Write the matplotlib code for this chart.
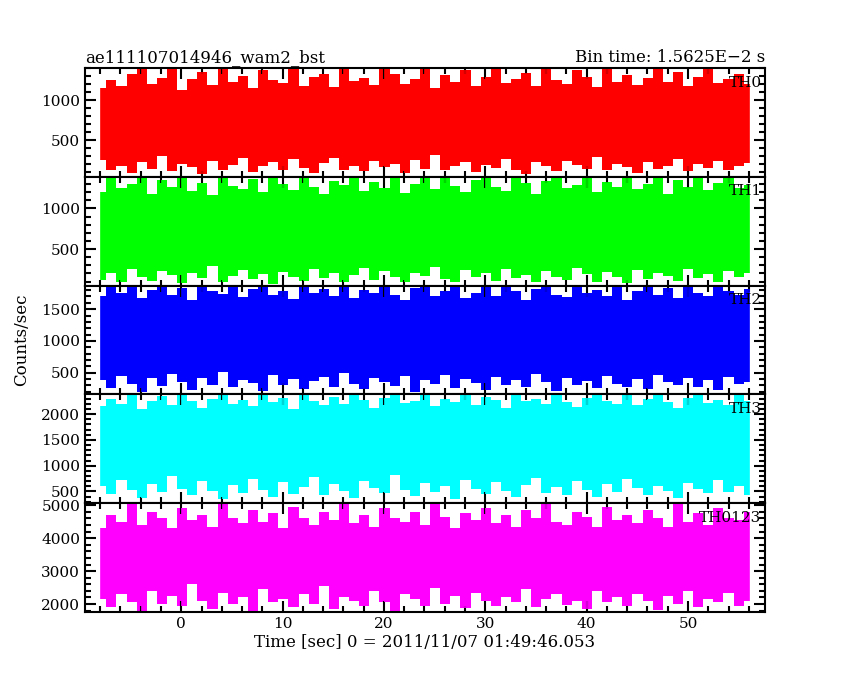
import numpy as np
import matplotlib
matplotlib.use("Agg")
import matplotlib.pyplot as plt
from matplotlib.ticker import MultipleLocator

labels = ["TH0", "TH1", "TH2", "TH3", "TH0123"]
colors = ["#ff0000", "#00ff00", "#0000ff", "#00ffff", "#ff00ff"]
ylims = [(40, 1400), (50, 1390), (160, 1870), (270, 2385), (1760, 5060)]
mids = [650, 650, 1000, 1400, 3300]

up0 = [1150,1250,1180,1320,1400,1200,1280,1400,1130,1260,1350,1190,1400,1220,1300,1150,1380,1250,1210,1400,
       1180,1290,1330,1160,1400,1240,1270,1190,1400,1320,1200,1260,1400,1150,1310,1230,1380,1170,1290,1400,
       1210,1260,1340,1180,1400,1250,1200,1370,1290,1160,1400,1230,1310,1190,1270,1400,1220,1350,1180,1290,
       1400,1210,1260,1330,1200]
lo0 = [250,120,180,90,230,140,300,110,200,160,80,240,130,190,270,100,170,220,120,260,
       150,90,210,280,130,180,110,240,160,200,90,250,140,310,120,170,230,100,190,150,
       260,130,80,220,170,110,240,190,140,290,120,200,160,90,230,140,180,260,110,200,
       150,240,130,180,210]
up1 = [1200,1380,1250,1300,1390,1180,1350,1260,1390,1220,1310,1170,1390,1280,1240,1360,1200,1390,1300,1230,
       1390,1260,1180,1340,1290,1390,1210,1320,1250,1390,1190,1300,1370,1240,1390,1280,1200,1350,1390,1260,
       1220,1390,1310,1180,1340,1390,1250,1290,1390,1200,1330,1260,1390,1240,1300,1390,1180,1350,1270,1390,
       1230,1310,1390,1250,1290]
lo1 = [120,200,90,260,150,110,230,180,80,210,140,290,100,170,240,130,190,70,220,160,
       110,250,140,200,90,180,270,120,230,150,100,210,170,280,130,90,240,160,200,110,
       260,140,180,90,230,150,120,270,190,100,220,160,80,240,130,200,170,110,250,140,
       190,90,230,160,210]
up2 = [1700,1850,1760,1870,1680,1800,1870,1720,1830,1650,1870,1780,1740,1870,1690,1810,1870,1730,1790,1660,
       1870,1750,1820,1700,1870,1680,1800,1760,1870,1720,1640,1830,1870,1710,1790,1870,1680,1750,1860,1700,
       1870,1780,1650,1820,1870,1730,1690,1870,1760,1800,1700,1870,1640,1790,1870,1720,1830,1680,1870,1750,
       1700,1870,1790,1730,1820]
lo2 = [380,260,450,320,200,410,290,480,350,230,420,300,510,270,390,340,220,460,310,400,
       250,370,430,280,500,330,240,410,360,290,450,200,380,320,470,260,400,340,230,440,
       300,390,270,480,350,210,420,310,370,260,450,330,280,400,240,460,350,300,420,270,
       380,230,440,320,360]
up3 = [2150,2300,2200,2385,2100,2250,2350,2180,2385,2260,2120,2300,2385,2200,2280,2150,2385,2230,2320,2100,
       2385,2250,2180,2340,2200,2385,2280,2130,2310,2385,2210,2260,2385,2150,2300,2240,2385,2180,2330,2270,
       2120,2385,2250,2300,2190,2385,2230,2140,2320,2385,2260,2200,2385,2170,2290,2385,2240,2130,2310,2385,
       2220,2280,2180,2385,2250]
lo3 = [600,450,720,520,380,650,480,800,550,420,700,500,360,620,470,750,530,400,680,450,
       590,780,430,640,500,370,710,560,460,820,520,410,660,480,600,350,730,540,450,690,
       510,400,620,760,470,580,430,700,520,390,650,480,740,560,420,610,500,380,670,540,
       460,720,490,600,430]
up4 = [4300,4700,4500,5060,4400,4800,4600,4300,4900,4550,4700,4350,5060,4600,4450,4850,4500,4750,4300,4950,
       4600,4400,4800,4550,5060,4450,4700,4350,4900,4600,4500,4800,4400,5060,4650,4300,4750,4550,4900,4450,
       4700,4350,4850,4600,5060,4500,4400,4800,4650,4350,4950,4550,4700,4450,4850,4600,4350,5060,4500,4750,
       4400,4900,4600,4550,4800]
lo4 = [2150,1900,2300,2050,1800,2400,2000,2250,1950,2600,2100,1850,2350,2000,2200,1780,2450,2050,2150,1900,
       2300,2000,2550,1850,2200,2100,1950,2400,2050,1800,2300,2150,1950,2500,2000,2250,1870,2350,2100,1950,
       2200,2050,2450,1900,2150,2300,1980,2100,1850,2400,2050,2200,1950,2300,2100,1820,2250,2000,2400,1900,
       2150,2050,2350,1950,2100]
uppers = [up0, up1, up2, up3, up4]
lowers = [lo0, lo1, lo2, lo3, lo4]
ytick_sets = [[500, 1000], [500, 1000], [500, 1000, 1500], [500, 1000, 1500, 2000], [2000, 3000, 4000, 5000]]
minors = [100, 100, 100, 100, 200]

t_start, t_end = -7.9, 56.0

plt.rcParams['font.family'] = ['DejaVu Serif']
fig = plt.figure(figsize=(8.5, 6.8), dpi=100)
L, R, B, T = 85/850, 765/850, 1-612/680, 1-68/680
h = (T - B) / 5
axes = []
for i in range(5):
    ax = fig.add_axes([L, T - (i+1)*h, R-L, h])
    xu = np.linspace(t_start, t_end, len(uppers[i]))
    xl = np.linspace(t_start, t_end, len(lowers[i]))
    ax.fill_between(xu, mids[i], uppers[i], color=colors[i], lw=0, step='mid')
    ax.fill_between(xl, lowers[i], mids[i], color=colors[i], lw=0, step='mid')
    ax.vlines(xu, mids[i], uppers[i], color=colors[i], lw=1.2)
    ax.vlines(xl, lowers[i], mids[i], color=colors[i], lw=1.2)
    ax.set_xlim(-9.5, 57.6)
    ax.set_ylim(*ylims[i])
    ax.set_yticks(ytick_sets[i])
    ax.yaxis.set_minor_locator(MultipleLocator(minors[i]))
    ax.xaxis.set_major_locator(MultipleLocator(10))
    ax.xaxis.set_minor_locator(MultipleLocator(2))
    ax.tick_params(which='both', direction='in', top=True, right=True, width=1.5, labelsize=11)
    ax.tick_params(which='major', length=8)
    ax.tick_params(which='minor', length=4)
    for s in ax.spines.values():
        s.set_linewidth(1.5)
    ax.text(0.995, 0.93, labels[i], transform=ax.transAxes, ha='right', va='top', fontsize=11, zorder=5)
    if i < 4:
        ax.tick_params(labelbottom=False)
    axes.append(ax)

axes[0].set_title("ae111107014946_wam2_bst", loc='left', fontsize=12, pad=4)
axes[0].set_title("Bin time: 1.5625E\u22122 s", loc='right', fontsize=12, pad=4)
axes[4].set_xlabel("Time [sec] 0 = 2011/11/07 01:49:46.053", fontsize=12, labelpad=2)
fig.text(0.015, (T+B)/2, "Counts/sec", rotation=90, va='center', ha='left', fontsize=12)
fig.savefig("out.png", dpi=100)
